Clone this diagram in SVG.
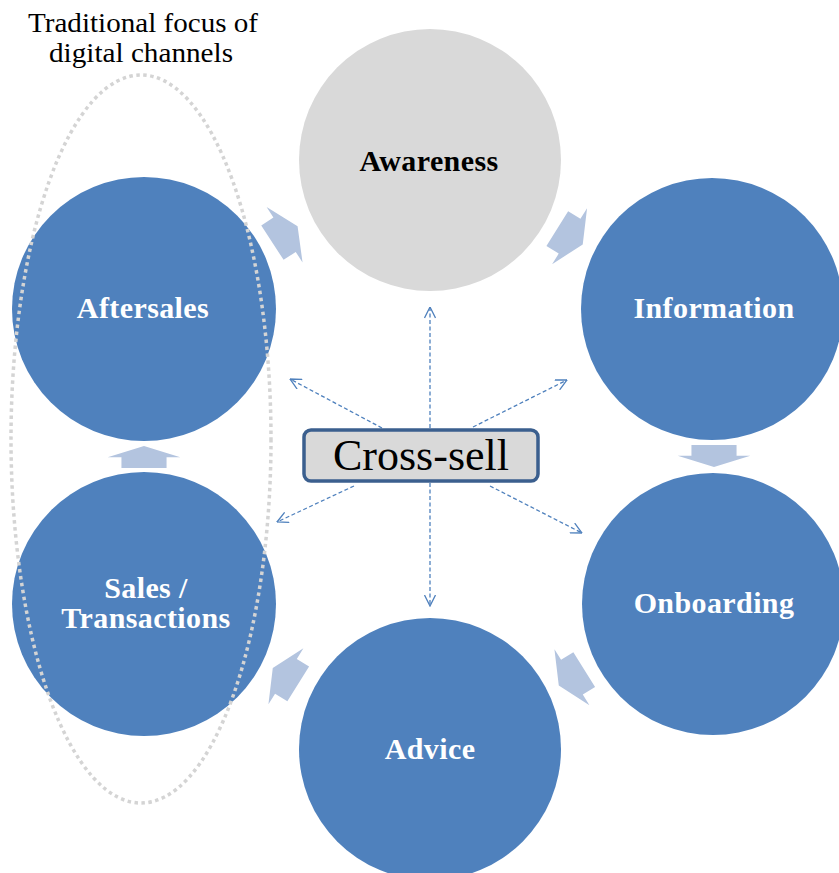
<svg xmlns="http://www.w3.org/2000/svg" xmlns:xlink="http://www.w3.org/1999/xlink" width="839" height="873" viewBox="0 0 839 873">
  <style>
    .node { fill: #4f81bd; }
    .node-grey { fill: #d9d9d9; }
    .lbl { font-family: "Liberation Serif", "Times New Roman", serif; font-weight: bold; font-size: 30px; letter-spacing: 0.4px; text-anchor: middle; fill: #ffffff; }
    .lbl-dark { fill: #000000; }
    .blk { fill: #b3c4df; }
    .conn { fill: none; stroke: #4f81bd; stroke-width: 1.3; stroke-dasharray: 4 2.5; }
    .focus { fill: none; stroke: #d4d4d4; stroke-width: 3.5; stroke-dasharray: 3.5 3.5; }
    .title { font-family: "Liberation Serif", "Times New Roman", serif; font-size: 27px; text-anchor: middle; fill: #000000; }
  </style>
  <defs>
    <path id="blockArrow" d="M-15,-20.5 H-0.5 V-33 L15,0 L-0.5,33 V20.5 H-15 Z"/>
    <marker id="openHead" viewBox="0 0 12 12" refX="11.5" refY="6" markerWidth="12" markerHeight="12" markerUnits="userSpaceOnUse" orient="auto">
      <path d="M0.5,0.5 L11.5,6 L0.5,11.5" fill="none" stroke="#4f81bd" stroke-width="1.3"/>
    </marker>
  </defs>

  <rect width="839" height="873" fill="#ffffff"/>

  <g id="awareness">
    <circle class="node-grey" cx="430" cy="160" r="131"/>
    <text class="lbl lbl-dark" x="429" y="171">Awareness</text>
  </g>
  <g id="information">
    <circle class="node" cx="712" cy="309" r="131"/>
    <text class="lbl" x="714" y="318">Information</text>
  </g>
  <g id="onboarding">
    <circle class="node" cx="713" cy="604" r="131"/>
    <text class="lbl" x="714" y="613">Onboarding</text>
  </g>
  <g id="advice">
    <circle class="node" cx="430" cy="749" r="131"/>
    <text class="lbl" x="430" y="759">Advice</text>
  </g>
  <g id="sales">
    <circle class="node" cx="144" cy="604" r="132"/>
    <text class="lbl" x="146" y="598">Sales /</text>
    <text class="lbl" x="146" y="628">Transactions</text>
  </g>
  <g id="aftersales">
    <circle class="node" cx="144" cy="309" r="132"/>
    <text class="lbl" x="143" y="318">Aftersales</text>
  </g>

  <g id="cycle-arrows">
    <use xlink:href="#blockArrow" class="blk" transform="translate(285,234.5) rotate(-33)"/>
    <use xlink:href="#blockArrow" class="blk" transform="translate(570,236.5) rotate(32)"/>
    <use xlink:href="#blockArrow" class="blk" transform="translate(714,456) rotate(90) scale(0.73,1.1)"/>
    <use xlink:href="#blockArrow" class="blk" transform="translate(571.5,677.5) rotate(148)"/>
    <use xlink:href="#blockArrow" class="blk" transform="translate(285.5,676) rotate(212)"/>
    <use xlink:href="#blockArrow" class="blk" transform="translate(144,457) rotate(-90) scale(0.73,1.1)"/>
  </g>

  <g id="traditional-focus">
    <ellipse class="focus" cx="141" cy="439" rx="130" ry="364"/>
    <text class="title" x="143" y="32" textLength="230" lengthAdjust="spacingAndGlyphs">Traditional focus of</text>
    <text class="title" x="141" y="62" textLength="184" lengthAdjust="spacingAndGlyphs">digital channels</text>
  </g>

  <g id="connectors">
    <line class="conn" x1="430" y1="428" x2="430" y2="307" marker-end="url(#openHead)"/>
    <line class="conn" x1="430" y1="483" x2="430" y2="606" marker-end="url(#openHead)"/>
    <line class="conn" x1="382" y1="428" x2="290" y2="379" marker-end="url(#openHead)"/>
    <line class="conn" x1="473" y1="427" x2="567" y2="380" marker-end="url(#openHead)"/>
    <line class="conn" x1="354" y1="486" x2="277" y2="522" marker-end="url(#openHead)"/>
    <line class="conn" x1="490" y1="486" x2="582" y2="533" marker-end="url(#openHead)"/>
  </g>

  <g id="cross-sell">
    <rect x="304" y="430" width="234" height="51" rx="7" fill="#d9d9d9" stroke="#3b5f8e" stroke-width="3.5"/>
    <text x="421" y="470" font-family="'Liberation Serif', 'Times New Roman', serif" font-size="44" text-anchor="middle" fill="#000000">Cross-sell</text>
  </g>
</svg>
